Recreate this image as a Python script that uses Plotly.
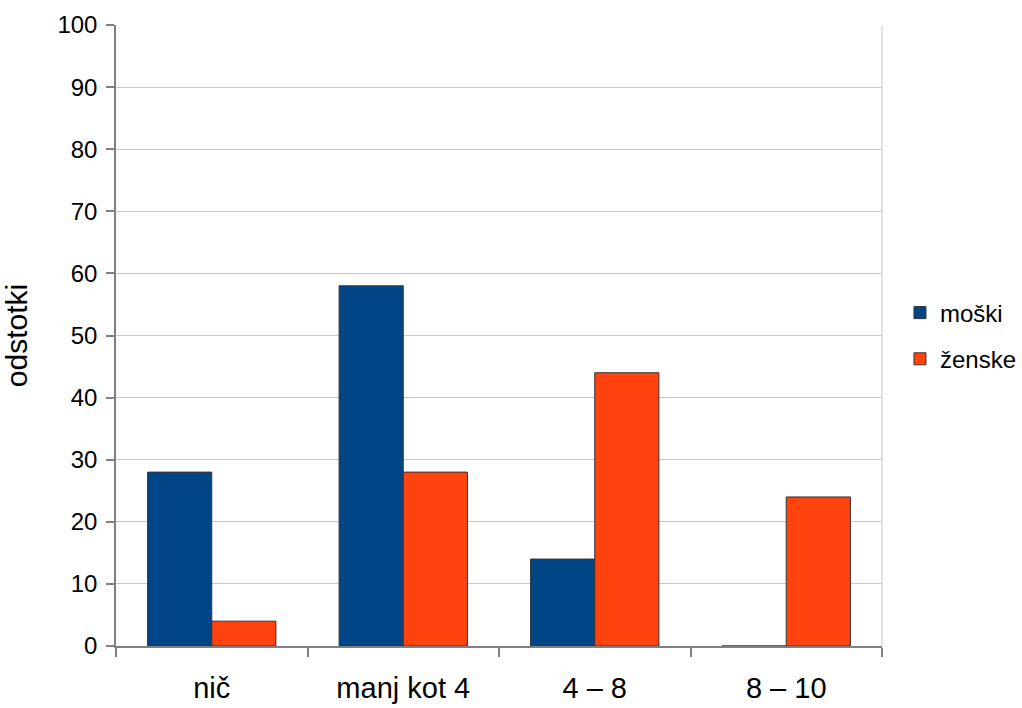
import plotly.graph_objects as go

categories = ["nič", "manj kot 4", "4 – 8", "8 – 10"]
moski = [28, 58, 14, 0]
zenske = [4, 28, 44, 24]
y_ticks = [0, 10, 20, 30, 40, 50, 60, 70, 80, 90, 100]

fig = go.Figure()
fig.add_trace(go.Bar(name="moški", x=categories, y=moski, legendgroup="a",
                     marker=dict(color="#004586", line=dict(color="#333333", width=1))))
fig.add_trace(go.Bar(name="ženske", x=categories, y=zenske, legendgroup="b",
                     marker=dict(color="#ff420e", line=dict(color="#333333", width=1))))

fig.update_layout(
    width=1022, height=708,
    margin=dict(l=116, r=140, t=25, b=62),
    paper_bgcolor="white", plot_bgcolor="white",
    barmode="group", bargap=0.33, bargroupgap=0,
    font=dict(family="Liberation Sans, Arial, sans-serif", color="black", size=22),
    legend=dict(xref="container", yref="container", x=0.8806, y=0.5254,
                xanchor="left", yanchor="middle",
                font=dict(size=24), bgcolor="rgba(0,0,0,0)",
                traceorder="grouped", tracegroupgap=12, itemwidth=30),
    showlegend=True,
)
fig.update_xaxes(
    type="category", tickson="boundaries", ticks="outside", ticklen=9,
    tickcolor="#808080", tickwidth=1.5, showline=True, linecolor="#808080", linewidth=1.5,
    showgrid=False, tickfont=dict(size=29), ticklabelstandoff=15, automargin=False,
)
fig.update_yaxes(
    range=[0, 100], tickvals=y_ticks, ticks="outside", ticklen=8,
    tickcolor="#808080", tickwidth=1.5, showline=True, linecolor="#808080", linewidth=1.5,
    showgrid=True, gridcolor="#c8c8c8", gridwidth=1, zeroline=False,
    tickfont=dict(size=24), ticklabelstandoff=4,
    title=dict(text="odstotki", font=dict(size=30), standoff=23), automargin=False,
)
fig.add_shape(type="line", xref="paper", yref="paper", x0=1, x1=1, y0=0, y1=1,
              line=dict(color="#c8c8c8", width=1))

fig.write_html("out.html", config={"displayModeBar": False},
               post_script="document.body.style.margin='0';")
